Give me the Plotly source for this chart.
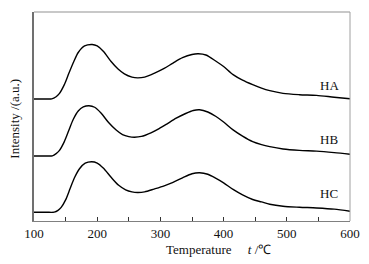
import plotly.graph_objects as go

temp_HA = [100, 120, 128, 135, 140, 148, 155, 163, 170, 180, 192, 200, 210, 222, 233, 243, 255, 264, 275, 290, 306, 320, 335, 350, 360, 372, 388, 400, 415, 430, 446, 460, 473, 494, 520, 547, 575, 600]
int_HA = [121.4, 121.4, 121.5, 123.7, 126.7, 135.7, 146.7, 158.7, 167.7, 174.2, 175.7, 174.2, 168.7, 158.7, 151.2, 146.4, 143.2, 142.4, 143.2, 146.9, 151.8, 157.2, 162.5, 165.7, 166.4, 165.2, 159.0, 153.7, 145.7, 140.2, 135.7, 132.2, 129.7, 127.0, 125.7, 125.0, 123.2, 121.7]

temp_HB = [100, 120, 129, 135, 140, 148, 155, 162, 170, 178, 187, 196, 206, 218, 230, 240, 250, 259, 270, 285, 298, 310, 325, 340, 352, 362, 375, 388, 400, 415, 430, 446, 460, 473, 494, 520, 547, 575, 600]
int_HB = [64.7, 64.7, 64.8, 67.0, 70.0, 79.0, 90.0, 101.0, 109.5, 113.5, 114.7, 113.2, 107.5, 98.0, 90.5, 86.0, 84.0, 83.4, 84.2, 87.8, 92.0, 96.5, 102.3, 107.0, 110.0, 110.7, 108.5, 104.0, 98.5, 90.7, 84.5, 79.0, 76.0, 74.0, 71.7, 70.3, 69.5, 68.0, 66.4]

temp_HC = [100, 120, 132, 138, 143, 150, 157, 164, 172, 181, 191, 200, 210, 222, 234, 245, 255, 264, 275, 290, 306, 320, 335, 350, 362, 375, 388, 400, 415, 430, 446, 460, 473, 494, 520, 547, 575, 600]
int_HC = [8.7, 8.7, 8.8, 10.5, 13.5, 21.0, 32.0, 43.0, 52.0, 57.5, 59.0, 57.7, 52.5, 43.5, 35.5, 31.0, 29.0, 28.4, 29.0, 31.8, 35.0, 38.5, 43.0, 47.0, 48.0, 46.5, 42.4, 38.0, 31.4, 26.0, 21.4, 19.0, 16.7, 14.7, 13.7, 13.0, 11.8, 9.7]

series_names = ["HA", "HB", "HC"]
label_x = [567, 567, 567]
label_y = [134.7, 80.7, 27.4]
x_ticks = [100, 200, 300, 400, 500, 600]

fig = go.Figure()
for t, v in [(temp_HA, int_HA), (temp_HB, int_HB), (temp_HC, int_HC)]:
    fig.add_trace(go.Scatter(x=t, y=v, mode="lines",
                             line=dict(color="black", width=1.4, shape="spline", smoothing=0.8),
                             showlegend=False, hoverinfo="skip"))

serif = "Liberation Serif"
for name, lx, ly in zip(series_names, label_x, label_y):
    fig.add_annotation(x=lx, y=ly, text=name, showarrow=False,
                       font=dict(family=serif, size=13, color="#111"))

fig.add_annotation(xref="paper", yref="paper", x=0.585, y=-0.136, yanchor="middle",
                   text="Temperature&nbsp;&nbsp;&nbsp;&nbsp;&nbsp;<i>t</i> /℃", showarrow=False,
                   font=dict(family=serif, size=13, color="#111"))
fig.add_annotation(xref="paper", yref="paper", x=-0.063, y=0.49, xanchor="center", yanchor="middle",
                   textangle=-90, text="Intensity /(a.u.)", showarrow=False,
                   font=dict(family=serif, size=13, color="#111"))

# top and right frame borders
fig.add_shape(type="line", xref="paper", yref="paper", x0=0, x1=1, y0=1, y1=1,
              line=dict(color="#c8c8c8", width=2))
fig.add_shape(type="line", xref="paper", yref="paper", x0=1, x1=1, y0=0, y1=1,
              line=dict(color="#a0a0a0", width=1))

# page body has an 8px default margin, so the figure is offset by 8px
fig.update_layout(
    width=369, height=264,
    margin=dict(l=26, r=27, t=4, b=51),
    paper_bgcolor="white", plot_bgcolor="white",
    font=dict(family=serif, size=12, color="#111"),
    xaxis=dict(range=[100, 600], tickvals=x_ticks, ticks="inside", ticklen=4,
               tickcolor="#333", showline=True, linecolor="#808080", linewidth=1,
               showgrid=False, zeroline=False, automargin=False,
               minor=dict(ticks="inside", ticklen=4, tickcolor="#333", dtick=50, showgrid=False),
               tickfont=dict(family=serif, size=13)),
    yaxis=dict(range=[0, 208], showticklabels=False, ticks="", showgrid=False,
               zeroline=False, showline=True, linecolor="#707070", linewidth=1.5,
               automargin=False),
)

fig.write_html("out.html")
